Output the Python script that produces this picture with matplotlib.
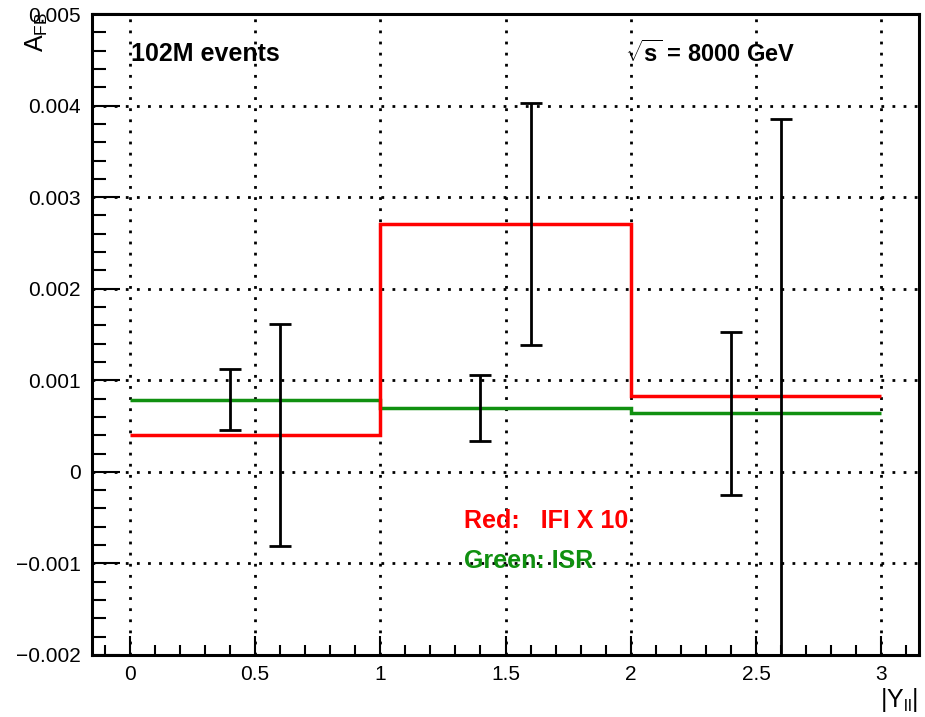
# A_FB vs |Y_ll| : IFI (x10) and ISR contributions, ROOT-style look

import matplotlib.pyplot as plt
from matplotlib.ticker import MultipleLocator

plt.rcParams['font.family'] = ['Liberation Sans', 'DejaVu Sans']
plt.rcParams['mathtext.fontset'] = 'custom'
plt.rcParams['mathtext.rm'] = 'Liberation Sans'
plt.rcParams['mathtext.bf'] = 'Liberation Sans:bold'

# bin edges in |Y_ll|
edges = [0, 1, 2, 3]

# red: IFI x 10, green: ISR
ifi_vals = [0.00040, 0.00271, 0.00083]
ifi_errs = [0.00121, 0.00132, 0.00302]
isr_vals = [0.00079, 0.00070, 0.00064]
isr_errs = [0.00033, 0.00036, 0.00089]

# where the error bars are drawn inside each bin
isr_err_x = [0.4, 1.4, 2.4]
ifi_err_x = [0.6, 1.6, 2.6]

yticks = [-0.002, -0.001, 0, 0.001, 0.002, 0.003, 0.004, 0.005]
ytick_labels = ['\u22120.002', '\u22120.001', '0', '0.001', '0.002', '0.003', '0.004', '0.005']
xticks = [0, 0.5, 1, 1.5, 2, 2.5, 3]
xtick_labels = ['0', '0.5', '1', '1.5', '2', '2.5', '3']

fig = plt.figure(figsize=(9.25, 7.17), dpi=100)
ax = fig.add_axes([92 / 925, 62 / 717, 827 / 925, 641 / 717])

ax.set_xlim(-0.15, 3.15)
ax.set_ylim(-0.002, 0.005)

# grid
for x in xticks:
    ax.axvline(x, color='black', lw=2, ls=(0, (1, 3)), zorder=1)
for y in yticks[1:-1]:
    ax.axhline(y, color='black', lw=2, ls=(0, (1, 3)), zorder=1)

ax.stairs(isr_vals, edges, baseline=None, color='#109010', lw=2.5, zorder=3)
ax.stairs(ifi_vals, edges, baseline=None, color='#ff0000', lw=2.5, zorder=3)

ax.errorbar(isr_err_x, isr_vals, yerr=isr_errs, fmt='none', ecolor='black',
            elinewidth=2, capsize=8, capthick=2, zorder=4)
ax.errorbar(ifi_err_x, ifi_vals, yerr=ifi_errs, fmt='none', ecolor='black',
            elinewidth=2, capsize=8, capthick=2, zorder=4)

# ticks
ax.set_xticks(xticks)
ax.set_xticklabels(xtick_labels)
ax.set_yticks(yticks)
ax.set_yticklabels(ytick_labels)
ax.xaxis.set_minor_locator(MultipleLocator(0.1))
ax.yaxis.set_minor_locator(MultipleLocator(0.0002))
ax.tick_params(axis='y', which='major', direction='in', length=20, width=1.5,
               labelsize=15, pad=8, right=False)
ax.tick_params(axis='y', which='minor', direction='in', length=10, width=1.5, right=False)
ax.tick_params(axis='x', which='major', direction='in', length=14, width=1.5,
               labelsize=15, pad=7, top=False)
ax.tick_params(axis='x', which='minor', direction='in', length=7, width=1.5, top=False)
for s in ax.spines.values():
    s.set_linewidth(2.2)

# texts
fig.text(131 / 925, 1 - 54 / 717, '102M events', fontsize=18, fontweight='bold', va='center')
fig.text(625 / 925, 1 - 54 / 717, r'$\mathbf{\sqrt{s}}$ = 8000 GeV', fontsize=17,
         fontweight='bold', va='center')
fig.text(464 / 925, 1 - 521 / 717, 'Red:   IFI X 10', fontsize=18, fontweight='bold',
         color='#ff0000', va='center')
fig.text(464 / 925, 1 - 561 / 717, 'Green: ISR', fontsize=18, fontweight='bold',
         color='#109010', va='center')

fig.text(37 / 925, 1 - 12 / 717, r'$\mathregular{A_{FB}}$', fontsize=18, rotation=90,
         ha='center', va='top')
fig.text(918 / 925, 1 - 714 / 717, r'$\mathregular{|Y_{ll}|}$', fontsize=18,
         ha='right', va='bottom')

fig.savefig('out.png', dpi=100)
